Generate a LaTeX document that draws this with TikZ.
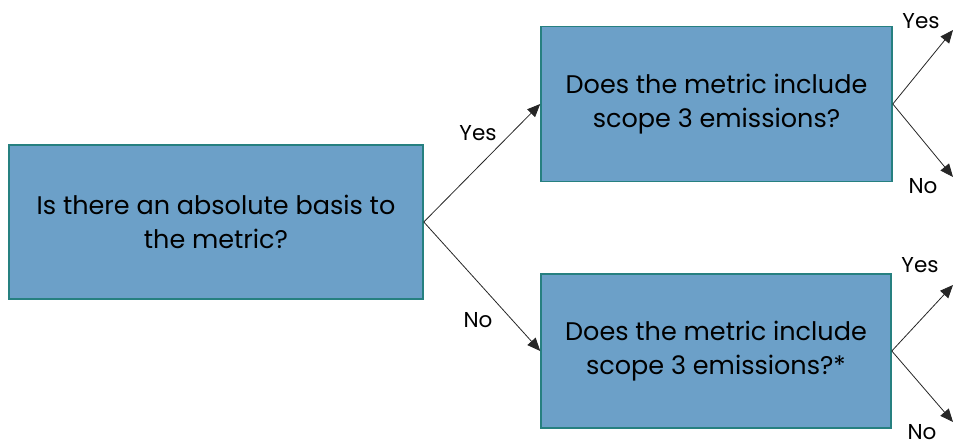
\documentclass[tikz,border=0pt]{standalone}
\usepackage{fontspec}
\setmainfont{Poppins}
\usetikzlibrary{arrows.meta}
\definecolor{boxfill}{RGB}{108,160,200}
\definecolor{boxline}{RGB}{38,128,128}
\tikzset{
  qbox/.style={draw=boxline, line width=1.6pt, fill=boxfill, align=center, inner sep=0pt, font=\fontsize{25.5}{34}\selectfont},
  conn/.style={draw=black!85, line width=0.8pt, -{Triangle[length=13pt,width=11pt]}},
  lbl/.style={font=\fontsize{21.5}{24}\selectfont}
}
\begin{document}
\begin{tikzpicture}[x=1pt,y=1pt]
\useasboundingbox (0,0) rectangle (953,446);
\node[qbox, minimum width=414pt, minimum height=154pt] (q1) at (216,224) {Is there an absolute basis to\\the metric?};
\node[qbox, minimum width=351pt, minimum height=155pt] (q2) at (716.5,342) {Does the metric include\\scope 3 emissions?};
\node[qbox, minimum width=350pt, minimum height=154pt] (q3) at (716,95) {Does the metric include\\scope 3 emissions?*};
\coordinate (t1) at (953,416);
\coordinate (t2) at (953,269);
\coordinate (t3) at (953,161);
\coordinate (t4) at (953,24);
\draw[conn] (q1.east) -- (q2.west);
\draw[conn] (q1.east) -- (q3.west);
\draw[conn] (q2.east) -- (t1);
\draw[conn] (q2.east) -- (t2);
\draw[conn] (q3.east) -- (t3);
\draw[conn] (q3.east) -- (t4);
\node[lbl] (l1) at (478,313) {Yes};
\node[lbl] (l2) at (478,126) {No};
\node[lbl] (l3) at (921,425) {Yes};
\node[lbl] (l4) at (923,260) {No};
\node[lbl] (l5) at (920,181) {Yes};
\node[lbl, anchor=south, inner sep=0pt] (l6) at (922,6) {No};
\end{tikzpicture}
\end{document}
